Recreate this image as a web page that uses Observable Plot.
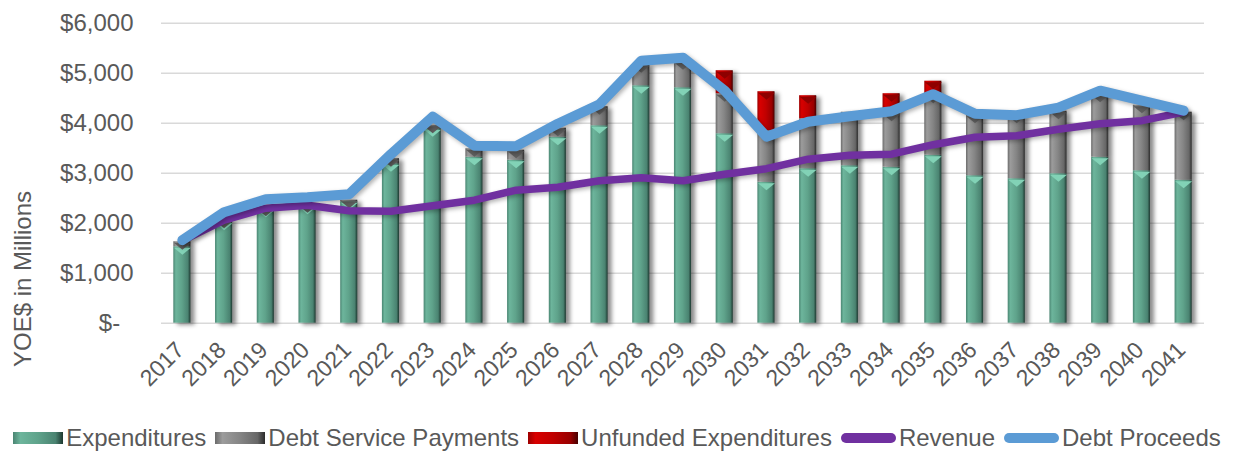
<!DOCTYPE html>
<html>
<head>
<meta charset="utf-8">
<script src="https://cdn.jsdelivr.net/npm/d3@7"></script>
<script src="https://cdn.jsdelivr.net/npm/@observablehq/plot@0.6"></script>
<style>
  html, body { margin: 0; padding: 0; background: #fff; }
  body { width: 1234px; height: 451px; overflow: hidden; font-family: "Liberation Sans", Arial, sans-serif; }
  #chart { position: relative; width: 1234px; height: 418px; }
  .bars { filter: drop-shadow(4px 2px 2px rgba(0,0,0,0.45)); }
  .lines { filter: drop-shadow(2px 2px 2px rgba(0,0,0,0.3)); }
  #legend { display: flex; justify-content: center; align-items: center; gap: 9px; height: 40px; font-size: 24px; color: #595959; white-space: nowrap; }
  .item { display: flex; align-items: center; gap: 3px; }
  .item svg { display: block; }
</style>
</head>
<body>
<svg width="0" height="0" style="position:absolute">
  <defs>
    <linearGradient id="gTeal" x1="0" x2="1" y1="0" y2="0">
      <stop offset="0" stop-color="#4a8572"/>
      <stop offset="0.15" stop-color="#6db59c"/>
      <stop offset="0.5" stop-color="#5fa38b"/>
      <stop offset="0.85" stop-color="#4a8371"/>
      <stop offset="1" stop-color="#1d3830"/>
    </linearGradient>
    <linearGradient id="gGrey" x1="0" x2="1" y1="0" y2="0">
      <stop offset="0" stop-color="#6b6b6b"/>
      <stop offset="0.15" stop-color="#9c9c9c"/>
      <stop offset="0.5" stop-color="#858585"/>
      <stop offset="0.85" stop-color="#676767"/>
      <stop offset="1" stop-color="#2b2b2b"/>
    </linearGradient>
    <linearGradient id="gRed" x1="0" x2="1" y1="0" y2="0">
      <stop offset="0" stop-color="#9c0000"/>
      <stop offset="0.15" stop-color="#d80000"/>
      <stop offset="0.5" stop-color="#c00000"/>
      <stop offset="0.85" stop-color="#980000"/>
      <stop offset="1" stop-color="#480000"/>
    </linearGradient>
  </defs>
</svg>
<div id="chart"></div>
<div id="legend"></div>
<script>
const years = ["2017","2018","2019","2020","2021","2022","2023","2024","2025","2026","2027","2028","2029","2030","2031","2032","2033","2034","2035","2036","2037","2038","2039","2040","2041"];
const expenditures = [1530,2020,2280,2340,2430,3190,3890,3320,3260,3720,3950,4750,4710,3790,2820,3090,3150,3120,3360,2950,2890,2990,3320,3050,2860];
const debtService  = [100,40,20,30,30,100,70,170,200,180,380,420,520,800,1030,1000,1070,1080,1200,1210,1270,1250,1260,1310,1360];
const unfunded     = [0,0,0,0,0,0,0,0,0,0,0,0,0,460,780,460,0,390,280,0,0,0,0,0,0];
const revenue      = [1650,2060,2300,2360,2250,2240,2350,2460,2660,2720,2850,2910,2850,2980,3090,3280,3360,3380,3570,3720,3750,3880,3990,4050,4220];
const debtProceeds = [1660,2220,2480,2520,2580,3380,4130,3550,3540,3990,4380,5250,5310,4650,3730,4030,4140,4240,4580,4190,4160,4310,4650,4450,4250];
const yTicks = [0,1000,2000,3000,4000,5000,6000];
const barSeries = ["Expenditures","Debt Service Payments","Unfunded Expenditures"];
const barFills = ["url(#gTeal)","url(#gGrey)","url(#gRed)"];
const bevelFills = ["#82d2b6","#5e5e5e","#8e0000"];
const lineSeries = ["Revenue","Debt Proceeds"];
const lineColors = ["#7030a0","#5b9bd5"];

const stacked = [];
years.forEach((y, i) => {
  stacked.push({year: y, series: barSeries[0], value: expenditures[i]});
  stacked.push({year: y, series: barSeries[1], value: debtService[i]});
  stacked.push({year: y, series: barSeries[2], value: unfunded[i]});
});
// tops of each segment (for bevel triangles)
const tops = [];
years.forEach((y, i) => {
  const vals = [expenditures[i], debtService[i], unfunded[i]];
  let acc = 0;
  vals.forEach((v, k) => { acc += v; if (v > 0) tops.push({year: y, k, top: acc}); });
});
const revData = years.map((y, i) => ({year: y, value: revenue[i]}));
const procData = years.map((y, i) => ({year: y, value: debtProceeds[i]}));

const fmt = v => v === 0 ? "$-\u00a0\u00a0" : "$" + d3.format(",")(v);

// flat inverted triangle marker (bevel on top of each bar segment)
const bevel = {draw(ctx) { ctx.moveTo(-8.5, 1); ctx.lineTo(8.5, 1); ctx.lineTo(0, 8); ctx.closePath(); }};

const plot = Plot.plot({
  width: 1234,
  height: 418,
  marginLeft: 161,
  marginRight: 30,
  marginTop: 22.7,
  marginBottom: 95.3,
  style: {fontFamily: "'Liberation Sans', Arial, sans-serif", color: "#595959", background: "transparent", overflow: "visible"},
  x: {type: "band", domain: years, range: [148.7, 1216.3], padding: 0.59, round: false},
  y: {domain: [0, 6000]},
  color: {domain: barSeries, range: barFills},
  marks: [
    Plot.gridY(yTicks, {stroke: "#d9d9d9", strokeOpacity: 1, strokeWidth: 1.5}),
    Plot.barY(stacked, {x: "year", y: "value", fill: "series", order: barSeries, className: "bars"}),
    ...barSeries.map((s, k) => Plot.dot(tops.filter(d => d.k === k), {x: "year", y: "top", symbol: bevel, fill: bevelFills[k], stroke: null})),
    Plot.line(revData, {x: "year", y: "value", stroke: lineColors[0], strokeWidth: 7.5, strokeLinejoin: "round", strokeLinecap: "round", className: "lines"}),
    Plot.line(procData, {x: "year", y: "value", stroke: lineColors[1], strokeWidth: 10, strokeLinejoin: "round", strokeLinecap: "round", className: "lines"}),
    Plot.axisY(yTicks, {tickSize: 0, tickPadding: 28, tickFormat: fmt, fontSize: 24, label: null, fill: "#595959"}),
    Plot.axisX({tickSize: 0, tickPadding: 23, tickRotate: -45, fontSize: 23, label: null, fill: "#595959", dx: -2})
  ]
});
const svg = d3.select(plot);
svg.append("text")
  .attr("transform", "translate(31,279) rotate(-90)")
  .attr("text-anchor", "middle")
  .attr("font-size", 24)
  .attr("fill", "#595959")
  .attr("font-family", "'Liberation Sans', Arial, sans-serif")
  .text("YOE$ in Millions");
document.getElementById("chart").appendChild(plot);

// legend
const legend = document.getElementById("legend");
const items = barSeries.map((s, i) => ({label: s, kind: "bar", fill: barFills[i]}))
  .concat(lineSeries.map((s, i) => ({label: s, kind: "line", color: lineColors[i]})));
items.forEach(it => {
  const div = document.createElement("div");
  div.className = "item";
  const ns = "http://www.w3.org/2000/svg";
  const sw = document.createElementNS(ns, "svg");
  if (it.kind === "bar") {
    sw.setAttribute("width", 50); sw.setAttribute("height", 14);
    const r = document.createElementNS(ns, "rect");
    r.setAttribute("x", 0); r.setAttribute("y", 1); r.setAttribute("width", 50); r.setAttribute("height", 12);
    r.setAttribute("fill", it.fill);
    sw.appendChild(r);
  } else {
    sw.setAttribute("width", 55); sw.setAttribute("height", 14);
    const l = document.createElementNS(ns, "line");
    l.setAttribute("x1", 5); l.setAttribute("x2", 50); l.setAttribute("y1", 7); l.setAttribute("y2", 7);
    l.setAttribute("stroke", it.color); l.setAttribute("stroke-width", 10); l.setAttribute("stroke-linecap", "round");
    sw.appendChild(l);
  }
  div.appendChild(sw);
  const t = document.createElement("span");
  t.textContent = it.label;
  div.appendChild(t);
  legend.appendChild(div);
});
</script>
</body>
</html>
